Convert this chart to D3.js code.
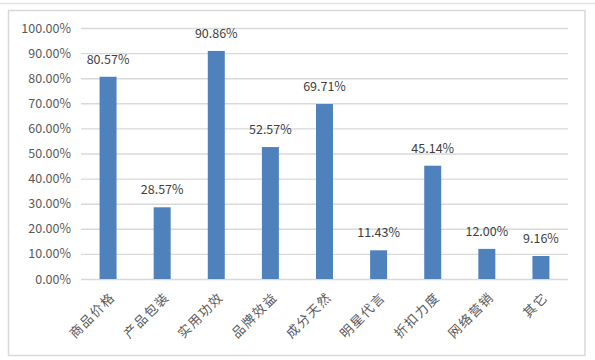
<!DOCTYPE html>
<html><head><meta charset="utf-8">
<script src="https://cdn.jsdelivr.net/npm/d3@7/dist/d3.min.js"></script>
<style>body{margin:0;background:#fff}</style>
</head><body><svg id="c" width="595" height="360"></svg>
<script>
const categories = ["商品价格","产品包装","实用功效","品牌效益","成分天然","明星代言","折扣力度","网络营销","其它"];
const values = [80.57, 28.57, 90.86, 52.57, 69.71, 11.43, 45.14, 12.00, 9.16];
const valueLabels = ["80.57%","28.57%","90.86%","52.57%","69.71%","11.43%","45.14%","12.00%","9.16%"];
const yTicks = [0,10,20,30,40,50,60,70,80,90,100];

const svg = d3.select("#c");
const font = "'Noto Sans CJK SC','Noto Sans',sans-serif";
svg.append("line").attr("x1",0).attr("x2",595).attr("y1",3.5).attr("y2",3.5).attr("stroke","#e3e3e3").attr("stroke-width",1.3);
svg.append("rect").attr("x",8.5).attr("y",10.5).attr("width",576.5).attr("height",345).attr("fill","#fff").attr("stroke","#d9d9d9").attr("stroke-width",1.5);

const x = d3.scaleBand().domain(categories).range([81,568]).paddingInner(0.686).paddingOuter(0.343);
const y = d3.scaleLinear().domain([0,100]).range([279,28]);

const gy = svg.append("g").attr("transform","translate(81,0)")
  .call(d3.axisLeft(y).tickValues(yTicks).tickSize(-487).tickPadding(10).tickFormat(d=>d.toFixed(2)+"%"));
gy.select(".domain").remove();
gy.selectAll(".tick line").attr("stroke","#d9d9d9").attr("stroke-width",1.4);
gy.selectAll(".tick text").attr("fill","#595959").style("font-family",font).style("font-size","12.5px");

svg.append("g").selectAll("rect").data(values).join("rect")
  .attr("x",(d,i)=>x(categories[i])).attr("width",x.bandwidth())
  .attr("y",d=>y(d)).attr("height",d=>y(0)-y(d)).attr("fill","#4f81bd");

svg.append("g").selectAll("text").data(values).join("text")
  .attr("x",(d,i)=>x(categories[i])+x.bandwidth()/2).attr("y",d=>y(d)-13)
  .attr("text-anchor","middle").attr("fill","#404040")
  .style("font-family",font).style("font-size","12.5px")
  .text((d,i)=>valueLabels[i]);

const gx = svg.append("g").attr("transform","translate(0,279)")
  .call(d3.axisBottom(x).tickSize(0).tickPadding(0));
gx.select(".domain").remove();
gx.selectAll(".tick text")
  .attr("text-anchor","end").attr("fill","#595959")
  .attr("transform","translate(8,19) rotate(-45)").attr("dy",0).attr("y",0)
  .style("font-family",font).style("font-size","13px").style("letter-spacing","1.5px");
</script></body></html>
